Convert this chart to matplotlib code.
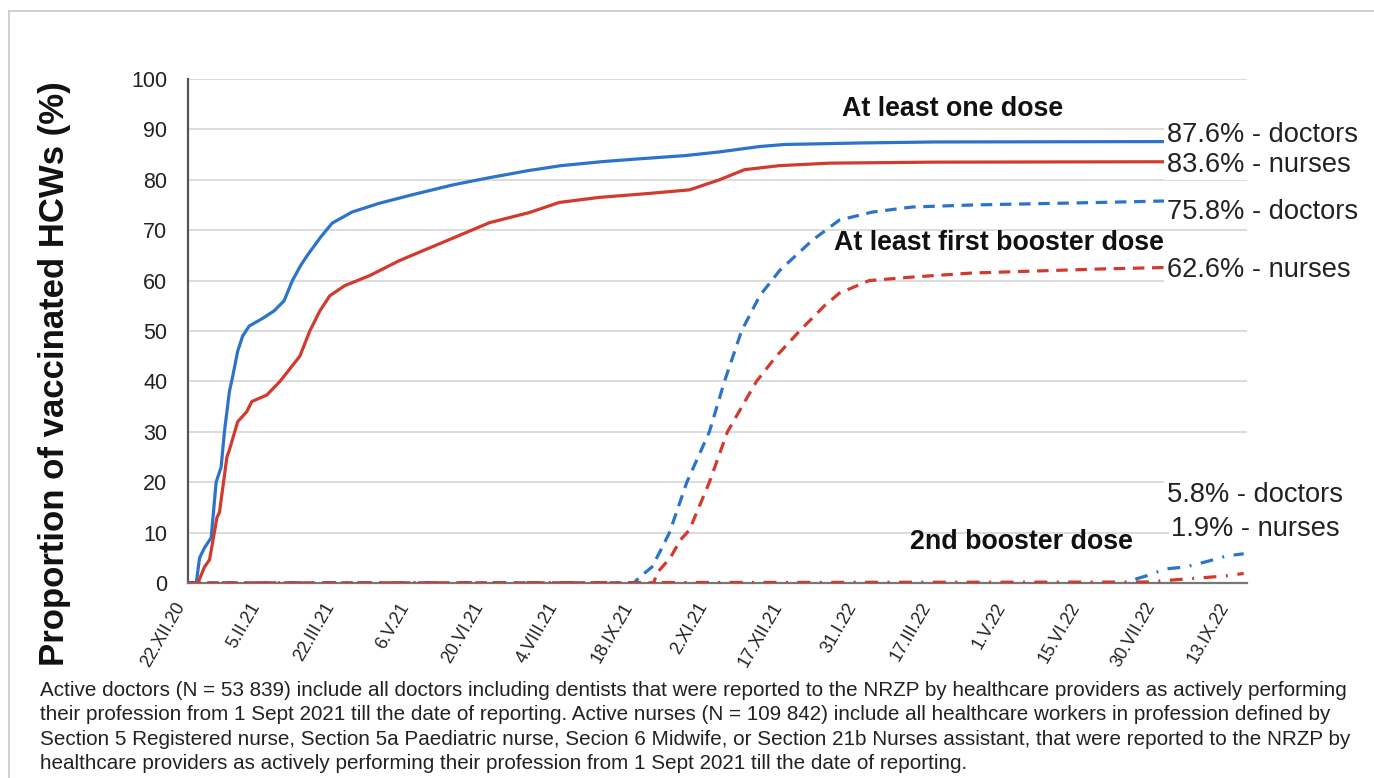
import matplotlib
matplotlib.use("Agg")
import matplotlib.pyplot as plt
from matplotlib.lines import Line2D
import numpy as np

plt.rcParams['font.family'] = ['Liberation Sans', 'DejaVu Sans']

# x tick labels (every 45 days from 22.XII.20)
tick_labels = ["22.XII.20", "5.II.21", "22.III.21", "6.V.21", "20.VI.21", "4.VIII.21",
               "18.IX.21", "2.XI.21", "17.XII.21", "31.I.22", "17.III.22", "1.V.22",
               "15.VI.22", "30.VII.22", "13.IX.22"]
tick_days = [0, 45, 90, 135, 180, 225, 270, 315, 360, 405, 450, 495, 540, 585, 630]

# At least one dose - doctors (days since 22.XII.20, %)
doc1_days = [0, 5, 7, 10, 14, 17, 20, 22, 25, 27, 30, 33, 37, 45, 52, 58, 63, 68, 72, 80,
             87, 99, 115, 135, 160, 180, 205, 225, 250, 270, 300, 320, 345, 360, 405, 450, 637]
doc1_vals = [0, 0, 5, 7, 9, 20, 23, 30, 38, 41, 46, 49, 51, 52.5, 54, 56, 60, 63, 65, 68.6,
             71.4, 73.6, 75.3, 77, 79, 80.3, 81.8, 82.8, 83.6, 84.1, 84.8, 85.5, 86.6, 87.0, 87.3, 87.5, 87.6]

# At least one dose - nurses
nur1_days = [0, 6, 10, 13, 17.5, 19, 23.5, 25, 30, 35.5, 38.5, 47.6, 55.5, 67.5, 73.5, 79.6,
             85.6, 94.6, 109.7, 127.8, 145.9, 164, 182, 206, 224, 248, 278.5, 302.6, 320.7,
             335.7, 356.8, 387, 450, 637]
nur1_vals = [0, 0, 3.2, 4.6, 13, 14, 25, 26.4, 32, 34, 36, 37.3, 40, 45, 50, 54,
             57, 59, 61, 64, 66.5, 69, 71.5, 73.5, 75.5, 76.5, 77.3, 78, 80,
             82, 82.8, 83.3, 83.5, 83.6]

# At least first booster dose - doctors
doc2_days = [0, 269, 272, 280, 286, 290.5, 301, 314.6, 323.7, 334, 345, 357, 376.7, 393,
             413, 437, 473, 550, 590, 637]
doc2_vals = [0, 0, 1, 3.2, 7, 10, 20, 30, 40, 50, 57, 62, 68, 72,
             73.6, 74.6, 75, 75.5, 75.8, 76]

# At least first booster dose - nurses
nur2_days = [0, 281, 283, 291, 297, 302.5, 314.6, 325.5, 343, 355, 369, 384, 393, 411, 437,
             473, 550, 590, 637]
nur2_vals = [0, 0, 2, 5, 8.5, 10.5, 20, 30, 40, 45, 50, 55, 57.5, 60, 60.7,
             61.5, 62.3, 62.6, 62.8]

# 2nd booster dose - doctors / nurses
doc3_days = [0, 566, 570, 578, 590, 602, 614, 627, 637]
doc3_vals = [0, 0, 0.6, 1.4, 2.8, 3.2, 4.2, 5.4, 5.8]
nur3_days = [0, 578, 602, 626, 630, 637]
nur3_vals = [0, 0.2, 0.8, 1.4, 1.6, 1.9]

blue = '#2b74c9'
red = '#d13a2c'

fig = plt.figure(figsize=(13.74, 7.78), dpi=100)
ax = fig.add_axes([0.1368, 0.2506, 0.9076 - 0.1368, 0.8985 - 0.2506])

lw = 2.3
dash = (0, (3.6, 2.4))
ax.plot(doc1_days, doc1_vals, color=blue, lw=lw, zorder=5)
ax.plot(nur1_days, nur1_vals, color=red, lw=lw, zorder=5)
ax.plot(doc2_days, doc2_vals, color=blue, lw=lw, ls=dash, zorder=4)
ax.plot(nur2_days, nur2_vals, color=red, lw=lw, ls=dash, zorder=4)
ax.plot(doc3_days, doc3_vals, color=blue, lw=lw, ls=(0, (4, 3, 0.6, 3)), zorder=3)
ax.plot(nur3_days, nur3_vals, color=red, lw=lw, ls=(0, (4, 3, 0.6, 3)), zorder=3)

ax.set_xlim(0, 639)
ax.set_ylim(0, 100)
ax.set_yticks(range(0, 101, 10))
ax.set_xticks(tick_days)
ax.set_xticklabels([])
for d, lab in zip(tick_days, tick_labels):
    ax.annotate(lab, xy=(d, 0), xycoords=('data', 'axes fraction'),
                xytext=(-10, -12), textcoords='offset points',
                rotation=60, ha='right', va='top', rotation_mode='anchor',
                fontsize=13, color='#222222', annotation_clip=False)
ax.tick_params(axis='y', length=0, pad=15, labelsize=15.5, labelcolor='#222222')
ax.tick_params(axis='x', length=0)
ax.grid(axis='y', color='#dcdcdc', lw=1.4, zorder=0)
ax.set_axisbelow(True)
for s in ['top', 'right']:
    ax.spines[s].set_visible(False)
ax.spines['left'].set_color('#555555')
ax.spines['left'].set_linewidth(1.6)
ax.spines['bottom'].set_color('#777777')
ax.spines['bottom'].set_linewidth(1.6)

ax.set_ylabel("Proportion of vaccinated HCWs (%)", fontsize=25, fontweight='bold',
              color='#111111')
ax.yaxis.set_label_coords(-0.126, 0.415)
ax.yaxis.label.set_va('center')

box = dict(facecolor='white', edgecolor='none', pad=1.5)
lab_kw = dict(fontsize=19.6, color='#222222', ha='left', va='center', zorder=10, bbox=box)
xl = 590.5
ax.text(xl, 88.9, "87.6% - doctors", **lab_kw)
ax.text(xl, 82.9, "83.6% - nurses", **lab_kw)
ax.text(xl, 73.6, "75.8% - doctors", **lab_kw)
ax.text(xl, 62.1, "62.6% - nurses", **lab_kw)
ax.text(xl, 17.5, "5.8% - doctors", **lab_kw)
ax.text(xl + 2.5, 10.7, "1.9% - nurses", **lab_kw)

tkw = dict(fontsize=19.3, fontweight='bold', color='#111111', ha='center', va='center', zorder=9)
ax.text(461.5, 94.0, "At least one dose", **tkw)
ax.text(489.5, 67.5, "At least first booster dose", **tkw)
ax.text(502.7, 8.2, "2nd booster dose", **tkw)

caption = ("Active doctors (N = 53 839) include all doctors including dentists that were reported to the NRZP by healthcare providers as actively performing\n"
           "their profession from 1 Sept 2021 till the date of reporting. Active nurses (N = 109 842) include all healthcare workers in profession defined by\n"
           "Section 5 Registered nurse, Section 5a Paediatric nurse, Secion 6 Midwife, or Section 21b Nurses assistant, that were reported to the NRZP by\n"
           "healthcare providers as actively performing their profession from 1 Sept 2021 till the date of reporting.")
fig.text(40 / 1374, 1 - 681 / 778, caption, fontsize=14.9, color='#222222', ha='left', va='top',
         linespacing=1.36)

# light frame lines (top and left)
fig.add_artist(Line2D([9 / 1374, 1.0], [1 - 11 / 778, 1 - 11 / 778], color='#c8c8c8', lw=1.2,
                      transform=fig.transFigure))
fig.add_artist(Line2D([9 / 1374, 9 / 1374], [0.0, 1 - 11 / 778], color='#c8c8c8', lw=1.2,
                      transform=fig.transFigure))

fig.savefig("out.png", dpi=100, facecolor='white')
